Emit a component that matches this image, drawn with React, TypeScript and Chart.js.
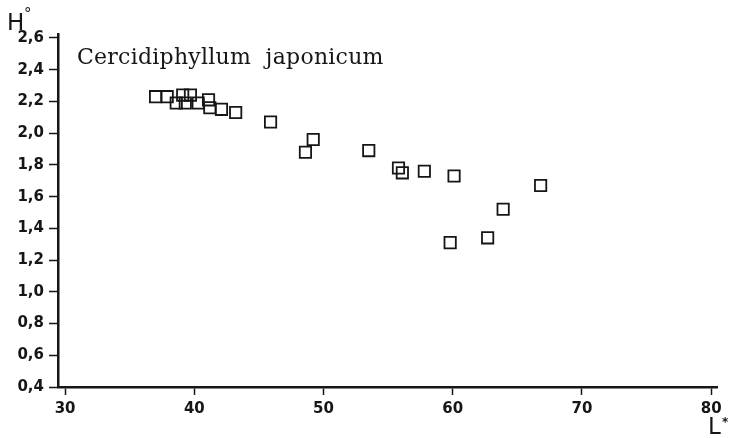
import { useEffect, useRef } from 'react';
import { Chart, registerables } from 'chart.js';

Chart.register(...registerables);

// Data: lightness L* (x) vs hue H° (y)
const lightness = [
  37.0, 37.9, 38.6, 39.3, 39.1, 39.7, 40.3, 41.1, 41.2, 42.1, 43.2, 45.9,
  48.6, 49.2, 53.5, 55.8, 56.1, 57.8, 60.1, 59.8, 62.7, 63.9, 66.8,
];
const hue = [
  2.23, 2.23, 2.19, 2.19, 2.24, 2.24, 2.19, 2.21, 2.16, 2.15, 2.13, 2.07,
  1.88, 1.96, 1.89, 1.78, 1.75, 1.76, 1.73, 1.31, 1.34, 1.52, 1.67,
];

const xTickValues = [30, 40, 50, 60, 70, 80];
const xTickLabels = ['30', '40', '50', '60', '70', '80'];
const yTickValues = [0.4, 0.6, 0.8, 1.0, 1.2, 1.4, 1.6, 1.8, 2.0, 2.2, 2.4, 2.6];
const yTickLabels = ['0,4', '0,6', '0,8', '1,0', '1,2', '1,4', '1,6', '1,8', '2,0', '2,2', '2,4', '2,6'];

const chartTitle = 'Cercidiphyllum  japonicum';
const xAxisLetter = 'L';
const xAxisMark = '*';
const yAxisLetter = 'H';
const yAxisMark = '°';

const ink = '#161616';
const tickFont = { family: '"DejaVu Sans"', size: 15, weight: 'bold' as const };

const labelsPlugin = {
  id: 'labelsPlugin',
  afterDraw(chart: any) {
    const ctx = chart.ctx as CanvasRenderingContext2D;
    ctx.save();
    ctx.fillStyle = ink;
    ctx.textBaseline = 'alphabetic';
    ctx.textAlign = 'left';
    ctx.font = '22px "DejaVu Serif"';
    (ctx as any).letterSpacing = '0.25px';
    ctx.fillText(chartTitle, 77, 64);
    (ctx as any).letterSpacing = '0px';
    ctx.font = '23px "DejaVu Sans"';
    ctx.fillText(yAxisLetter, 7, 30);
    ctx.font = '15px "DejaVu Sans"';
    ctx.fillText(yAxisMark, 24, 19);
    ctx.font = '23px "DejaVu Sans"';
    ctx.fillText(xAxisLetter, 708, 434);
    ctx.font = 'bold 12px "DejaVu Sans"';
    ctx.fillText(xAxisMark, 722, 426);
    ctx.restore();
  },
};

export default function App() {
  const ref = useRef<HTMLCanvasElement | null>(null);

  useEffect(() => {
    if (!ref.current) return;
    const points = lightness.map((x, i) => ({ x, y: hue[i] }));
    const chart = new Chart(ref.current, {
      type: 'scatter',
      data: {
        datasets: [
          {
            data: points,
            pointStyle: 'rect',
            pointRadius: 8,
            pointHoverRadius: 8,
            borderColor: ink,
            borderWidth: 1.8,
            backgroundColor: 'rgba(0,0,0,0)',
            showLine: false,
          },
        ],
      },
      options: {
        responsive: false,
        animation: false,
        events: [],
        layout: { padding: { left: 0, top: 34, right: 15, bottom: 0 } },
        plugins: {
          legend: { display: false },
          tooltip: { enabled: false },
          title: { display: false },
        },
        scales: {
          x: {
            type: 'linear',
            min: 29.45,
            max: 80.45,
            afterBuildTicks: (s: any) => {
              s.ticks = xTickValues.map((v) => ({ value: v }));
            },
            afterFit: (s: any) => {
              s.height = 51;
            },
            ticks: {
              callback: (_v: any, i: number) => xTickLabels[i],
              font: tickFont,
              color: ink,
              padding: 5,
              maxRotation: 0,
              autoSkip: false,
            },
            grid: {
              drawOnChartArea: false,
              tickLength: 8,
              tickWidth: 1.5,
              color: ink,
            },
            border: { color: ink, width: 2.5 },
          },
          y: {
            type: 'linear',
            min: 0.4,
            max: 2.625,
            afterBuildTicks: (s: any) => {
              s.ticks = yTickValues.map((v) => ({ value: v }));
            },
            afterFit: (s: any) => {
              s.width = 58;
            },
            ticks: {
              callback: (_v: any, i: number) => yTickLabels[i],
              font: tickFont,
              color: ink,
              padding: 5,
              autoSkip: false,
            },
            grid: {
              drawOnChartArea: false,
              tickLength: 9,
              tickWidth: 1.5,
              color: ink,
            },
            border: { color: ink, width: 2.5 },
          },
        },
      },
      plugins: [labelsPlugin],
    });
    return () => chart.destroy();
  }, []);

  return (
    <div style={{ position: 'fixed', left: 0, top: 0, width: 732, height: 438, background: '#fff' }}>
      <canvas ref={ref} width={732} height={438} />
    </div>
  );
}
